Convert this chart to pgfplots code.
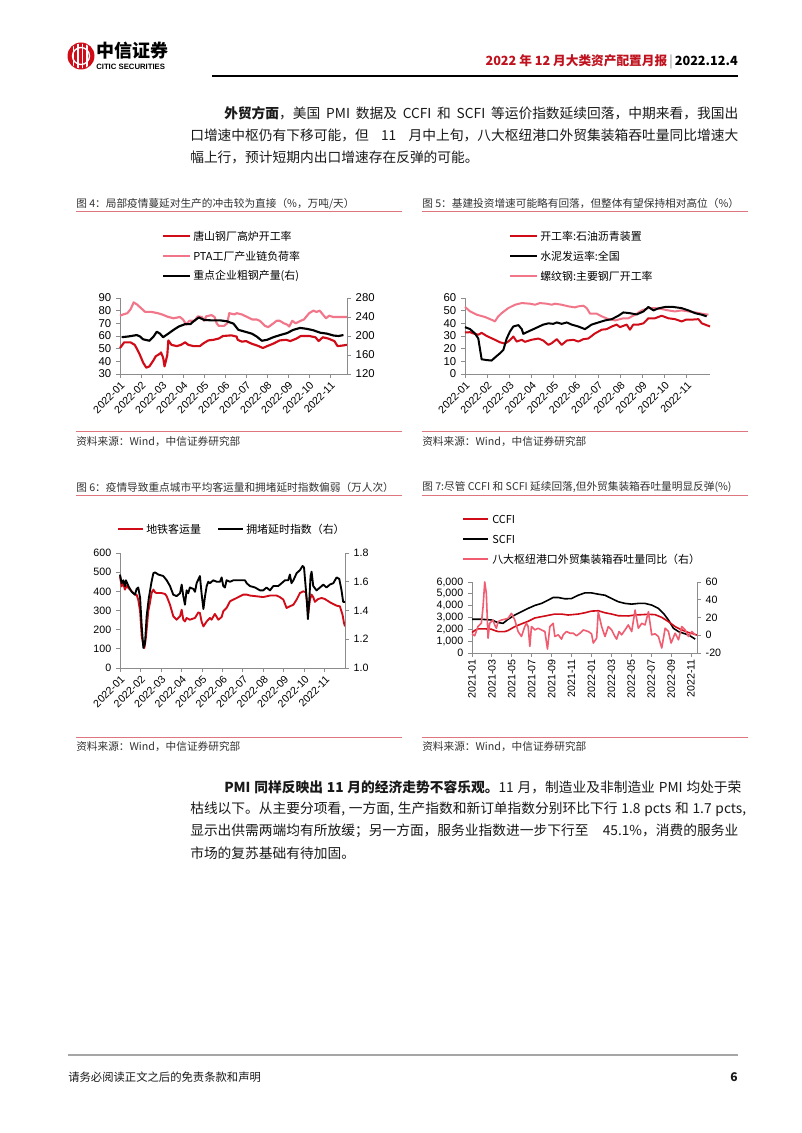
\documentclass[border=0pt]{standalone}
\usepackage{fontspec}
\setmainfont{Noto Sans CJK SC}
\newfontfamily\arial{Liberation Sans}
\usepackage{pgfplots}
\pgfplotsset{compat=1.18}
\definecolor{cred}{RGB}{208,12,24}
\definecolor{cpink}{RGB}{240,92,112}
\definecolor{cpinkb}{RGB}{242,118,138}
\definecolor{hdrred}{RGB}{192,18,30}
\definecolor{axgray}{RGB}{140,140,140}
\definecolor{tline}{RGB}{222,118,128}
\definecolor{txt}{RGB}{25,25,25}
\definecolor{ttl}{RGB}{50,50,50}
\pgfplotsset{
  base/.style={scale only axis, anchor=south west,
    axis x line*=bottom, axis y line*=left,
    axis line style={draw=axgray, line width=0.7pt, -},
    tick style={draw=axgray, line width=0.7pt},
    major tick length=3pt, tick align=outside,
    /pgf/number format/assume math mode=true,
    tick label style={font=\arial\fontsize{8.5}{9}\selectfont, text=black},
    scaled y ticks=false, scaled x ticks=false,
    clip=false},
  sec/.style={axis y line*=right, axis x line=none, xtick=\empty},
  xrot/.style={xticklabel style={rotate=45, anchor=north east, inner sep=1.5pt, font=\arial\fontsize{8}{9}\selectfont}},
  mlab/.style={xtick={0,...,10}, xticklabels={2022-01,2022-02,2022-03,2022-04,2022-05,2022-06,2022-07,2022-08,2022-09,2022-10,2022-11}},
}
\newcommand{\lf}[1]{\fontsize{#1}{#1}\selectfont}
\newcommand{\ssp}{\hspace{0.28em plus 1em}}
\begin{document}
\begin{tikzpicture}
\path[use as bounding box, fill=white] (0,0) rectangle (601.5pt,849.75pt);
\begin{scope}[x=0.75pt,y=-0.75pt,yshift=849.75pt]
% header logo
\fill[cred] (81,56) circle (13.5);
\begin{scope}
\clip (81,56) circle (12.5);
\foreach \xx in {73.5,78,82.5,87}{\draw[white, line width=1.1pt] (\xx,43) -- (\xx,69);}
\draw[white, line width=1pt] (81,56) circle (8.5);
\end{scope}
\node[anchor=west, inner sep=0, text=black] at (96,51) {\lf{13.5}\bfseries 中信证券};
\node[anchor=west, inner sep=0, text=black] at (96,66.5) {\arial\bfseries\lf{5.8}CITIC SECURITIES};
\node[anchor=east, inner sep=0] at (738,62) {\lf{9.5}\bfseries{\color{hdrred}2022 年 12 月大类资产配置月报}\,{\color{gray}\mdseries|}\,{\color{black}2022.12.4}};
\draw[black, line width=1.6pt] (212,76) -- (738,76);
% paragraphs
\begin{scope}[every node/.style={anchor=west, inner sep=0, text=txt, font=\lf{10.3}}]
\node at (224,113) {\makebox[385.5pt][s]{{\bfseries 外贸方面}，美国\ssp PMI\ssp 数据及\ssp CCFI\ssp 和\ssp SCFI\ssp 等运价指数延续回落，中期来看，我国出}};
\node at (190,135) {\makebox[411pt][s]{口增速中枢仍有下移可能，但\ssp 11\ssp 月中上旬，八大枢纽港口外贸集装箱吞吐量同比增速大}};
\node at (190,157) {幅上行，预计短期内出口增速存在反弹的可能。};
\node at (224,787) {\makebox[385.5pt][s]{{\bfseries PMI\ssp 同样反映出\ssp 11\ssp 月的经济走势不容乐观。}11\ssp 月，制造业及非制造业\ssp PMI\ssp 均处于荣}};
\node at (190,809) {\makebox[411pt][s]{枯线以下。从主要分项看,\ssp 一方面,\ssp 生产指数和新订单指数分别环比下行\ssp 1.8\ssp pcts\ssp 和\ssp 1.7\ssp pcts,}};
\node at (190,831) {\makebox[411pt][s]{显示出供需两端均有所放缓；另一方面，服务业指数进一步下行至\ssp 45.1\%，消费的服务业}};
\node at (190,853) {市场的复苏基础有待加固。};
\end{scope}
% chart titles and source lines
\begin{scope}[every node/.style={anchor=west, inner sep=0, text=ttl, font=\lf{8}}]
\node at (76,204) {图 4：局部疫情蔓延对生产的冲击较为直接（\%，万吨/天）};
\node at (422,204) {图 5：基建投资增速可能略有回落，但整体有望保持相对高位（\%）};
\node at (76,487) {图 6：疫情导致重点城市平均客运量和拥堵延时指数偏弱（万人次）};
\node at (422,487) {图 7:尽管 CCFI 和 SCFI 延续回落,但外贸集装箱吞吐量明显反弹(\%)};
\node at (76,442) {资料来源：Wind，中信证券研究部};
\node at (422,442) {资料来源：Wind，中信证券研究部};
\node at (76,747) {资料来源：Wind，中信证券研究部};
\node at (422,747) {资料来源：Wind，中信证券研究部};
\end{scope}
\foreach \yy in {211,431,495,737}{\draw[tline, line width=0.7pt] (76,\yy) -- (402,\yy); \draw[tline, line width=0.7pt] (422,\yy) -- (748,\yy);}
% legends
\begin{scope}[every node/.style={anchor=west, inner sep=0, text=black, font=\lf{8.2}}]
\draw[cred, line width=1.6pt] (163,236) -- (190,236); \node at (193,236) {唐山钢厂高炉开工率};
\draw[cpinkb, line width=1.6pt] (163,256) -- (190,256); \node at (193,256) {PTA工厂产业链负荷率};
\draw[black, line width=1.6pt] (163,276) -- (190,276); \node at (193,276) {重点企业粗钢产量(右)};
\draw[cred, line width=1.6pt] (510,236) -- (537,236); \node at (540,236) {开工率:石油沥青装置};
\draw[black, line width=1.6pt] (510,256) -- (537,256); \node at (540,256) {水泥发运率:全国};
\draw[cpinkb, line width=1.6pt] (510,276) -- (537,276); \node at (540,276) {螺纹钢:主要钢厂开工率};
\draw[cred, line width=1.5pt] (118,529) -- (143,529); \node at (146,529) {地铁客运量};
\draw[black, line width=1.5pt] (218,529) -- (243,529); \node at (246,529) {拥堵延时指数（右）};
\draw[cred, line width=1.3pt] (463,519) -- (488,519); \node at (492,519) {CCFI};
\draw[black, line width=1.3pt] (463,539) -- (488,539); \node at (492,539) {SCFI};
\draw[cpink, line width=1.3pt] (463,559) -- (488,559); \node at (492,559) {八大枢纽港口外贸集装箱吞吐量同比（右）};
\end{scope}
% footer
\draw[gray!70, line width=1pt] (68,1055) -- (738,1055);
\node[anchor=west, inner sep=0, text=txt] at (68,1077) {\lf{8.5}请务必阅读正文之后的免责条款和声明};
\node[anchor=east, inner sep=0, text=txt] at (738,1077) {\lf{9}\bfseries 6};
\end{scope}

% ---------- Chart 4 ----------
\begin{axis}[base, xrot, mlab, at={(90pt,569.25pt)}, width=170.25pt, height=57pt,
  xmin=0, xmax=10.8, ymin=30, ymax=90, ytick={30,40,...,90}]
\addplot[cred, line width=1.6pt, line join=round] coordinates {
(0,50.5)(0.2,55)(0.5,55)(0.7,53)(0.8,50)(0.95,45)(1.1,39)(1.25,35)(1.4,36)(1.6,41)(1.7,44)(1.9,46)(1.95,47)(2.05,43)(2.12,36)(2.25,45)(2.3,56.5)(2.45,53)(2.7,52)(2.9,53)(3.1,55)(3.25,53)(3.5,52)(3.8,52)(3.95,54)(4.2,56.5)(4.45,57)(4.7,58)(4.9,60)(5.3,60.5)(5.55,59.5)(5.6,57)(5.8,55.5)(6.0,56)(6.25,54)(6.6,52)(6.8,50.5)(7.0,52)(7.3,54)(7.6,56.5)(7.9,57)(8.1,56)(8.4,58)(8.6,60)(9.0,60)(9.3,59)(9.45,56)(9.65,59)(9.9,58)(10.2,56)(10.35,52)(10.6,52.5)(10.8,53)};
\addplot[cpinkb, line width=1.6pt, line join=round] coordinates {
(0,76)(0.15,77)(0.35,78)(0.5,81)(0.65,86.5)(0.8,85)(1.0,82)(1.2,79)(1.5,79)(1.8,78)(2.0,77)(2.3,75)(2.55,74)(2.85,75)(3.0,73)(3.15,69)(3.3,72)(3.55,72)(3.7,75.5)(3.9,75)(4.0,72)(4.1,75.5)(4.35,76.5)(4.5,75)(4.6,70)(4.7,68)(4.95,68)(5.1,70)(5.2,78)(5.45,77)(5.55,78)(5.8,77)(6.05,75)(6.3,73)(6.5,73)(6.65,72)(6.9,68)(7.05,67)(7.3,70)(7.45,72)(7.6,72)(7.8,70)(7.95,69)(8.05,67.5)(8.2,72)(8.35,70)(8.6,72)(8.75,73)(9.0,78)(9.2,80)(9.35,79)(9.5,80)(9.65,77)(9.8,74)(9.95,76)(10.15,75)(10.8,75)};
\end{axis}
\begin{axis}[base, sec, at={(90pt,569.25pt)}, width=170.25pt, height=57pt,
  xmin=0, xmax=10.8, ymin=120, ymax=280, ytick={120,160,...,280}]
\addplot[black, line width=1.6pt, line join=round] coordinates {
(0.08,197.5)(0.4,199)(0.8,202)(0.95,199)(1.1,193)(1.4,190)(1.6,199)(1.75,209)(1.9,205)(2.05,197.5)(2.3,205)(2.55,213)(2.8,220)(3.1,225)(3.35,225)(3.5,231)(3.75,239)(4.0,234)(4.3,233)(4.75,233)(5.08,231)(5.4,226)(5.63,213)(5.95,209)(6.27,205)(6.5,199)(6.75,190)(7.0,192)(7.3,197.5)(7.62,202)(7.94,206)(8.25,213)(8.57,217)(8.9,215)(9.2,212)(9.52,207)(9.84,205)(10.16,201)(10.4,200)(10.63,202)};
\end{axis}

% ---------- Chart 5 ----------
\begin{axis}[base, xrot, mlab, at={(348.75pt,569.25pt)}, width=183.75pt, height=57pt,
  xmin=0, xmax=11.05, ymin=0, ymax=60, ytick={0,10,...,60}]
\addplot[cpinkb, line width=1.5pt, line join=round] coordinates {
(0,52.9)(0.23,49.4)(0.53,46.8)(0.9,45)(1.2,42.8)(1.35,41.5)(1.5,45.5)(1.65,48)(1.95,52)(2.26,54.7)(2.56,56)(2.93,55.5)(3.16,54.7)(3.38,56)(3.68,55.5)(3.91,54.7)(4.06,55.5)(4.36,54.7)(4.66,53.4)(4.96,52.6)(5.11,53.4)(5.34,53.9)(5.49,52)(5.64,47.6)(5.94,47.6)(6.17,45.5)(6.47,43.3)(6.77,42.3)(6.99,43.3)(7.14,44)(7.37,44)(7.67,46.8)(7.97,50.2)(8.27,52)(8.57,52)(8.87,51.3)(9.17,50.2)(9.47,49.4)(9.77,50.2)(10.08,49.4)(10.38,48.6)(10.68,47.6)(10.98,46.8)};
\addplot[cred, line width=1.5pt, line join=round] coordinates {
(0,32.8)(0.23,33)(0.38,32)(0.6,31)(0.75,32.5)(0.98,30)(1.35,27)(1.58,25)(1.8,24)(1.95,25.6)(2.1,28)(2.18,29.6)(2.33,25.6)(2.56,27)(2.7,25.4)(3.0,27)(3.31,28)(3.53,26.4)(3.76,23)(3.91,24.3)(4.14,27.5)(4.36,23)(4.59,26.4)(4.89,27)(5.11,25.6)(5.34,27.5)(5.56,28)(5.86,32)(6.17,35)(6.39,35.4)(6.62,37.5)(6.84,39)(6.99,37)(7.14,38)(7.29,39)(7.44,35)(7.59,39)(7.82,39)(8.05,40)(8.27,44)(8.57,44)(8.87,46)(9.17,44)(9.47,43.3)(9.77,41.5)(9.99,43)(10.29,43)(10.53,43.3)(10.68,40)(10.83,39)(11.05,37.5)};
\addplot[black, line width=1.5pt, line join=round] coordinates {
(0,37)(0.23,35.4)(0.45,32)(0.6,28)(0.75,11.6)(0.98,11)(1.2,10.6)(1.35,13)(1.58,16.4)(1.73,19)(1.88,28)(2.03,33.6)(2.18,37.5)(2.41,38.6)(2.56,35.4)(2.63,31.7)(2.86,33.6)(3.16,36)(3.53,39)(3.76,40)(3.98,39.6)(4.14,40.7)(4.36,39.6)(4.59,40.7)(4.81,39)(5.11,37.5)(5.41,35.4)(5.71,39)(6.02,40.7)(6.32,42.3)(6.62,43.3)(6.92,46)(7.14,48.6)(7.44,48)(7.74,47)(8.05,49.4)(8.27,52.9)(8.5,50.2)(8.72,51.8)(9.02,52.9)(9.4,52.9)(9.77,52)(10.08,50.2)(10.38,48)(10.68,46.8)(10.9,45.5)};
\end{axis}

% ---------- Chart 6 ----------
\begin{axis}[base, xrot, mlab, at={(90pt,348.75pt)}, width=168.75pt, height=86.25pt,
  tick label style={font=\arial\fontsize{8}{9}\selectfont},
  xmin=0, xmax=10.98, ymin=0, ymax=600, ytick={0,100,...,600}]
\addplot[cred, line width=1.4pt, line join=round] coordinates {
(0,478)(0.08,426)(0.16,443)(0.24,409)(0.33,430)(0.41,417)(0.57,400)(0.73,383)(0.81,383)(0.89,357)(0.98,296)(1.06,165)(1.14,122)(1.19,104)(1.27,165)(1.38,296)(1.46,339)(1.54,391)(1.63,409)(1.71,395)(1.79,391)(2.03,391)(2.2,386)(2.28,374)(2.44,330)(2.6,270)(2.76,252)(2.93,270)(3.01,304)(3.09,252)(3.17,243)(3.25,261)(3.41,252)(3.66,261)(3.82,290)(3.9,287)(3.98,243)(4.07,217)(4.23,243)(4.39,261)(4.47,252)(4.63,282)(4.8,252)(4.96,266)(5.04,296)(5.2,313)(5.37,348)(5.53,357)(5.69,365)(5.85,374)(6.02,383)(6.18,383)(6.34,378)(6.67,374)(6.99,370)(7.32,378)(7.64,378)(7.8,370)(7.97,357)(8.13,313)(8.29,322)(8.46,330)(8.62,357)(8.78,391)(8.94,400)(9.07,395)(9.14,330)(9.19,287)(9.27,357)(9.35,383)(9.43,370)(9.51,345)(9.67,360)(9.84,365)(10.0,360)(10.24,343)(10.57,325)(10.73,322)(10.86,278)(10.93,235)(10.98,217)};
\end{axis}
\begin{axis}[base, sec, at={(90pt,348.75pt)}, width=168.75pt, height=86.25pt,
  tick label style={font=\arial\fontsize{8}{9}\selectfont},
  yticklabel style={/pgf/number format/.cd, fixed, fixed zerofill, precision=1},
  xmin=0, xmax=10.98, ymin=1.0, ymax=1.8, ytick={1.0,1.2,...,1.81}]
\addplot[black, line width=1.4pt, line join=round] coordinates {
(0,1.65)(0.08,1.59)(0.16,1.61)(0.24,1.57)(0.29,1.61)(0.41,1.57)(0.57,1.53)(0.73,1.51)(0.81,1.55)(0.89,1.56)(0.98,1.49)(1.06,1.29)(1.14,1.14)(1.22,1.17)(1.3,1.36)(1.41,1.49)(1.54,1.60)(1.63,1.66)(1.71,1.665)(1.87,1.65)(2.11,1.64)(2.28,1.61)(2.44,1.57)(2.6,1.51)(2.76,1.50)(2.93,1.52)(3.01,1.58)(3.09,1.50)(3.17,1.44)(3.25,1.54)(3.33,1.52)(3.41,1.56)(3.58,1.55)(3.66,1.53)(3.74,1.59)(3.9,1.64)(3.98,1.52)(4.07,1.41)(4.15,1.50)(4.23,1.57)(4.31,1.60)(4.39,1.59)(4.55,1.61)(4.72,1.60)(4.88,1.60)(4.96,1.63)(5.04,1.57)(5.12,1.56)(5.2,1.61)(5.37,1.60)(5.53,1.61)(5.69,1.61)(5.85,1.61)(6.1,1.61)(6.18,1.59)(6.34,1.57)(6.59,1.56)(6.83,1.54)(6.99,1.54)(7.15,1.56)(7.32,1.54)(7.48,1.57)(7.72,1.57)(7.89,1.59)(8.05,1.61)(8.21,1.61)(8.29,1.65)(8.37,1.59)(8.46,1.61)(8.62,1.66)(8.78,1.68)(8.91,1.71)(8.98,1.70)(9.11,1.48)(9.17,1.34)(9.24,1.48)(9.3,1.64)(9.35,1.67)(9.43,1.57)(9.59,1.54)(9.76,1.56)(9.92,1.58)(10.08,1.56)(10.24,1.58)(10.41,1.59)(10.57,1.63)(10.7,1.62)(10.81,1.54)(10.89,1.46)(10.98,1.46)};
\end{axis}

% ---------- Chart 7 ----------
\begin{axis}[base, at={(354pt,360pt)}, width=168.75pt, height=53.25pt,
  tick label style={font=\arial\fontsize{8}{9}\selectfont},
  xmin=0, xmax=22.6, ymin=0, ymax=6000, ytick={0,1000,...,6000},
  yticklabel style={/pgf/number format/.cd, 1000 sep={,}},
  xtick={0,2,...,22},
  xticklabels={2021-01,2021-03,2021-05,2021-07,2021-09,2021-11,2022-01,2022-03,2022-05,2022-07,2022-09,2022-11},
  xticklabel style={rotate=90, anchor=east, inner sep=1.5pt}]
\addplot[black, line width=1.2pt, line join=round] coordinates {
(0,2850)(0.94,2850)(1.95,2790)(2.62,2570)(3.12,2510)(3.62,2850)(4.3,3210)(4.97,3490)(5.64,3770)(6.31,4020)(6.98,4190)(7.65,4470)(8.15,4690)(8.66,4690)(9.33,4580)(9.99,4600)(10.67,4880)(11.34,5080)(12.0,5080)(12.68,4970)(13.36,4880)(14.03,4600)(14.7,4330)(15.37,4190)(16.04,4130)(16.71,4190)(17.38,4190)(18.05,4050)(18.72,3770)(19.23,3350)(19.73,2790)(20.23,2090)(20.74,1810)(21.41,1620)(21.91,1450)(22.42,1170)};
\addplot[cred, line width=1.2pt, line join=round] coordinates {
(0,1730)(0.27,1900)(0.6,2040)(1.28,2040)(1.95,2010)(2.28,1900)(2.62,1810)(3.29,1810)(3.62,1900)(4.3,2230)(4.97,2460)(5.64,2680)(6.31,2960)(6.98,3070)(7.65,3180)(8.32,3290)(8.99,3290)(9.66,3210)(10.67,3290)(11.34,3400)(12.0,3540)(12.68,3570)(13.36,3400)(14.03,3290)(14.7,3150)(15.7,3130)(16.38,3210)(17.05,3240)(17.72,3270)(18.39,3240)(19.06,3010)(19.73,2650)(20.4,2230)(21.07,1950)(21.74,1730)(22.25,1620)(22.58,1510)};
\end{axis}
\begin{axis}[base, sec, at={(354pt,360pt)}, width=168.75pt, height=53.25pt,
  tick label style={font=\arial\fontsize{8}{9}\selectfont},
  xmin=0, xmax=22.6, ymin=-20, ymax=60, ytick={-20,0,...,60}]
\addplot[cpink, line width=1.2pt, line join=round] coordinates {
(0,1.6)(0.27,-0.6)(0.6,9.8)(0.94,13.5)(1.11,32)(1.28,60)(1.44,47)(1.61,-3.3)(1.78,13.5)(2.11,17.2)(2.28,11.6)(2.45,7.9)(2.62,15.3)(2.95,17.2)(3.29,18)(3.62,19)(3.96,24.7)(4.3,17.2)(4.63,4.2)(4.97,-1.4)(5.3,9.8)(5.47,13.5)(5.64,9.8)(5.81,-12.6)(5.97,9.8)(6.31,6)(6.64,7.9)(6.98,6)(7.32,4.2)(7.58,-15.5)(7.82,9.8)(8.15,13.5)(8.32,-1.4)(8.66,0.5)(8.99,-4.4)(9.16,0.5)(9.5,4.2)(9.83,2.3)(10.17,2.3)(10.5,-0.6)(10.84,2.3)(11.17,6)(11.68,4.2)(12.01,1.6)(12.18,-8.8)(12.52,-3.3)(12.68,26.5)(13.02,9.8)(13.36,-1.4)(13.69,9.8)(14.03,6)(14.36,-1.4)(14.53,-4.4)(14.77,4.2)(15.03,0.5)(15.37,6)(15.7,11.6)(16.04,4.2)(16.38,28.4)(16.71,7.9)(17.05,13.5)(17.38,11.6)(17.72,26.5)(18.05,0.5)(18.39,1.6)(18.72,-1.4)(19.06,-14.4)(19.4,7.9)(19.73,4.2)(20.0,-8.8)(20.4,2.3)(20.74,-5.1)(21.07,9.8)(21.41,6)(21.74,-1.4)(22.08,4.2)(22.42,0.5)};
\end{axis}
\end{tikzpicture}
\end{document}
